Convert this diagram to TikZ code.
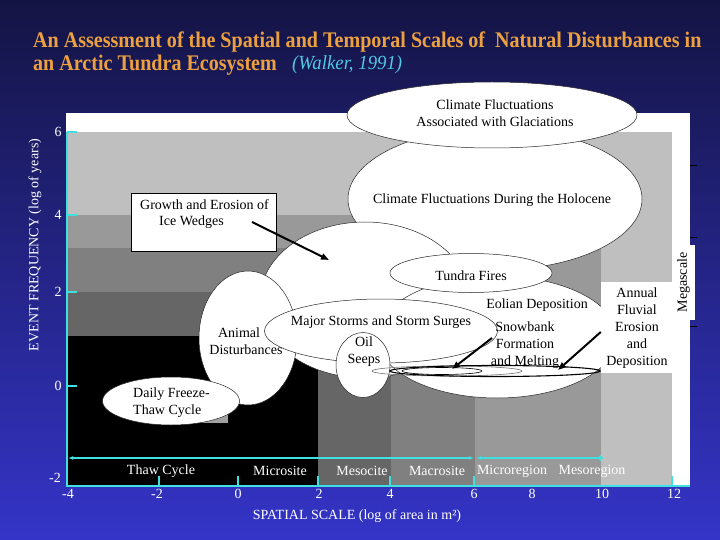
\documentclass[tikz,border=0pt]{standalone}
\usepackage{fontspec}
\setmainfont{Liberation Serif}
\newfontfamily\titlefont[FakeStretch=0.9]{Liberation Serif}
\newfontfamily\citefont[FakeStretch=0.94]{Liberation Serif}
\usetikzlibrary{arrows.meta,positioning,shapes.geometric}
\definecolor{navytop}{RGB}{20,20,68}
\definecolor{navybot}{RGB}{52,52,200}
\definecolor{axcyan}{RGB}{64,224,224}
\definecolor{ttlorange}{RGB}{236,160,64}
\definecolor{citecyan}{RGB}{80,200,230}
\tikzset{
  >=Stealth,
  lbl/.style  ={font=\fontsize{14}{17}\selectfont, inner sep=0pt, align=center},
  wlbl/.style ={lbl, text=white},
  oval/.style ={ellipse, draw=black!85, line width=0.5pt, fill=white, inner sep=0pt},
  flat/.style ={ellipse, draw, line width=0.6pt, inner sep=0pt},
  axis/.style ={draw=axcyan, line width=1.4pt},
  span/.style ={draw=axcyan, line width=1.6pt},
  thk/.style  ={-{Triangle[length=8pt,width=6pt]}, line width=2pt},
  ttl/.style  ={font=\fontsize{22.3}{24}\titlefont\bfseries, text=ttlorange, inner sep=0pt, anchor=west},
}

\begin{document}
\begin{tikzpicture}[x=1pt, y=-1pt]
  \useasboundingbox (0,0) rectangle (720,540);
  \shade[top color=navytop, bottom color=navybot] (0,0) rectangle (720,540);

  \node[ttl] (title1) at (33,42) {An Assessment of the Spatial and Temporal Scales of \ Natural Disturbances in};
  \node[ttl] (title2) at (33,65) {an Arctic Tundra Ecosystem};
  \node[font=\fontsize{20}{22}\citefont\itshape, text=citecyan, inner sep=0pt, right=15pt of title2] (cite) {(Walker, 1991)};

  \fill[white] (66,113) rectangle (690,486);
  \foreach \xr/\yt/\sh in {672/132/25, 601/215/40, 475/248/50, 391/292/60, 318/336/100}
    \fill[black!\sh] (66,\yt) rectangle (\xr,486);
  \fill[black!37] (140,400) rectangle (228,423);

  \node[oval, minimum width=294pt, minimum height=142pt] (holo)  at (495,199) {};
  \node[oval, minimum width=290pt, minimum height=66pt]  (glac)  at (492,115) {};
  \node[oval, minimum width=210pt, minimum height=156pt] (blob)  at (365,300) {};
  \node[oval, minimum width=240pt, minimum height=122pt] (eolian) at (497,337) {};
  \node[oval, minimum width=162pt, minimum height=39pt]  (fire)  at (471,273) {};
  \node[oval, minimum width=98pt,  minimum height=134pt] (animal) at (248,338) {};
  \node[lbl] (animaltxt) at (239,333) {Animal};
  \node[oval, minimum width=233pt, minimum height=64pt]  (storm) at (381,331) {};
  \node[oval, minimum width=54pt,  minimum height=65pt]  (oil)   at (363,365) {};
  \node[oval, minimum width=137pt, minimum height=48pt]  (daily) at (171,401) {};
  \node[flat, draw=black!55, minimum width=150pt, minimum height=10pt] (snowA) at (447,371) {};
  \node[flat, line width=1.1pt, minimum width=210pt, minimum height=11pt] (snowB) at (495,371) {};
  \node[flat, minimum width=80pt, minimum height=7pt] (snowC) at (442,371) {};

  \node[draw, line width=0.6pt, fill=white, minimum width=145pt, minimum height=58pt, inner sep=0pt] (icebox) at (204,222) {};
  \node[lbl, anchor=west] (icetxt1) at (140,205) {Growth and Erosion of};
  \node[lbl, anchor=west] (icetxt2) at (159,222) {Ice Wedges};
  \node[fill=white, minimum width=71pt, minimum height=91pt, inner sep=0pt] (annual) at (636.5,327.5) {};
  \node[lbl] (annualtxt) at (637,328) {Annual\\Fluvial\\Erosion\\and\\Deposition};
  \node[lbl, fill=white, rotate=90, minimum width=75pt, minimum height=23pt] (mega) at (683.5,282.5) {Megascale};

  \node[lbl] (glactxt)  at (495,113) {Climate Fluctuations\\Associated with Glaciations};
  \node[lbl] (holotxt)  at (492,200) {Climate Fluctuations During the Holocene};
  \node[lbl] (firetxt)  at (471,276) {Tundra Fires};
  \node[lbl] (eoltxt)   at (537,305) {Eolian Deposition};
  \node[lbl] (snowtxt)  at (525,345) {Snowbank\\Formation\\and Melting};
  \node[lbl] (disttxt)  at (246,350) {Disturbances};
  \node[lbl] (stormtxt) at (381,322) {Major Storms and Storm Surges};
  \node[lbl] (oiltxt)   at (364,352) {Oil\\Seeps};
  \node[lbl, align=left, anchor=west] (dailytxt) at (133,403) {Daily Freeze-\\Thaw Cycle};

  \coordinate (icetail) at (252,222);
  \coordinate (icetip)  at (329,260);
  \coordinate (snowtail) at (492,338);
  \coordinate (snowtip)  at (452,369);
  \coordinate (fluvtip)  at (558,370);
  \draw[thk] (icetail) -- (icetip);
  \draw[thk] (snowtail) -- (snowtip);
  \draw[thk] (annual.west |- 0,332) -- (fluvtip);

  \draw[axis] (67,132) -- (67,486) -- (690,486);
  \foreach \yy in {132,215,292,386}
    \draw[axis] (67,\yy) -- (77,\yy);
  \foreach \xx in {159,238,318,390,474,672}
    \draw[axis] (\xx,486) -- (\xx,476);
  \foreach \yy in {165,237,326}
    \draw[black, line width=0.8pt] (690,\yy) -- (697,\yy);

  \foreach \yy/\t [count=\i] in {132/6,215/4,292/2,386/0}
    \node[wlbl] (ytick\i) at (58,\yy) {\t};
  \node[wlbl] (ytick5) at (55,478) {-2};
  \foreach \xx/\t [count=\i] in {68/-4,157/-2,238/0,319/2,390/4,474/6,532/8,602/10,674/12}
    \node[wlbl] (xtick\i) at (\xx,494) {\t};
  \node[wlbl, rotate=90] (ytitle) at (35,245) {EVENT FREQUENCY (log of years)};
  \node[wlbl] (xtitle) at (357,516) {SPATIAL SCALE (log of area in m²)};

  \coordinate (spanL) at (68,458);
  \coordinate (spanM) at (475,458);
  \coordinate (spanR) at (603,458);
  \draw[span, {Latex[length=5pt]}-{Latex[length=5pt]}] (spanL) -- ([xshift=-1pt]spanM);
  \draw[span, {Latex[length=5pt]}-{Circle[length=5pt]}] ([xshift=1pt]spanM) -- (spanR);

  \node[wlbl] (scale1) at (161,471) {Thaw Cycle};
  \node[wlbl] (scale2) at (280,471) {Microsite};
  \node[wlbl] (scale3) at (362,471) {Mesocite};
  \node[wlbl] (scale4) at (437,471) {Macrosite};
  \node[wlbl] (scale5) at (512,471) {Microregion};
  \node[wlbl] (scale6) at (592,471) {Mesoregion};
\end{tikzpicture}
\end{document}
